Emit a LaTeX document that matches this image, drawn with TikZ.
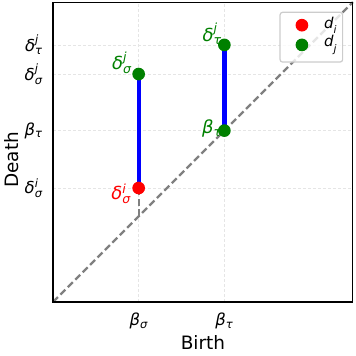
\documentclass[tikz,border=0pt]{standalone}
\usepackage{amsmath}
\usepackage{fontspec}
\setmainfont{DejaVu Sans}
\usetikzlibrary{calc, positioning}

\definecolor{mplgreen}{RGB}{0,128,0}
% oblique sans letters with sub/superscripts, as matplotlib sets them
\newcommand{\pd}[3]{{\itshape #1}$^{\text{\itshape #2}}_{\text{\itshape #3}}$}
\newcommand{\pb}[2]{{\itshape #1}$_{\text{\itshape #2}}$}

\begin{document}
\begin{tikzpicture}[x=85.7bp, y=85.7bp,
  dotr/.style={fill=red},
  dotg/.style={fill=mplgreen},
  bar/.style={blue, line width=4.3bp},
  diag/.style={gray, line width=2.3bp, dash pattern=on 7bp off 3.5bp},
  gridline/.style={black!10, line width=0.6bp, dash pattern=on 3bp off 2bp},
  tick/.style={font=\fontsize{16.5}{18}\selectfont},
  lab/.style={font=\fontsize{18}{20}\selectfont, inner sep=0bp}]
\def\rad{0.074}
\def\axmax{3.5}

\useasboundingbox (-0.618,-0.630) rectangle (3.536,3.524);

% grid
\foreach \x in {1,2}
  \draw[gridline] (\x,0) -- (\x,\axmax);
\foreach \y in {1.33,2,2.66,3.0}
  \draw[gridline] (0,\y) -- (\axmax,\y);

\coordinate (O) at (0,0);
\coordinate (C) at (\axmax,\axmax);
\coordinate (bs) at (1,1);
\coordinate (dis) at (1,1.33);
\coordinate (djs) at (1,2.66);
\coordinate (bt) at (2,2);
\coordinate (djt) at (2,3.0);

\draw[diag] (O) -- (C);
\draw[diag] (bs) -- (dis);
\draw[bar] (dis) -- (djs);
\draw[bar] (bt) -- (djt);

\fill[dotr] (dis) circle (\rad);
\fill[dotg] (djs) circle (\rad);
\fill[dotg] (bt) circle (\rad);
\fill[dotg] (djt) circle (\rad);

\node[lab, red, anchor=east] at ($(dis)+(-0.09,-0.07)$) {\pd{δ}{i}{σ}};
\node[lab, mplgreen, anchor=south east] at ($(djs)+(-0.08,0.0)$) {\pd{δ}{j}{σ}};
\node[lab, mplgreen, anchor=south east] at ($(djt)+(-0.03,0.0)$) {\pd{δ}{j}{τ}};
\node[lab, mplgreen, anchor=east] at ($(bt)+(-0.03,0.02)$) {\pb{β}{τ}};

\draw[line width=1.1bp] (0,0) rectangle (\axmax,\axmax);

% ticks
\node[tick, anchor=east] at (-0.08,1.33) {\pd{δ}{i}{σ}};
\node[tick, anchor=east] at (-0.08,2) {\pb{β}{τ}};
\node[tick, anchor=east] at (-0.08,2.66) {\pd{δ}{j}{σ}};
\node[tick, anchor=east] at (-0.08,3.0) {\pd{δ}{j}{τ}};
\node[tick] at (1,-0.22) {\pb{β}{σ}};
\node[tick] at (2,-0.22) {\pb{β}{τ}};

\node[font=\fontsize{18.5}{20}\selectfont] at (1.75,-0.47) {Birth};
\node[font=\fontsize{18.5}{20}\selectfont, rotate=90] at (-0.48,1.66) {Death};

% legend
\draw[black!20, line width=1.2bp, fill=white, fill opacity=0.8, rounded corners=2.5bp]
  (2.65,2.80) rectangle (3.38,3.38);
\fill[dotr] (2.905,3.23) circle (\rad);
\fill[dotg] (2.905,3.0) circle (\rad);
\node[font=\fontsize{15}{17}\selectfont] at (3.24,3.23) {\pd{d}{}{i}};
\node[font=\fontsize{15}{17}\selectfont] at (3.24,3.0) {\pd{d}{}{j}};
\end{tikzpicture}
\end{document}
